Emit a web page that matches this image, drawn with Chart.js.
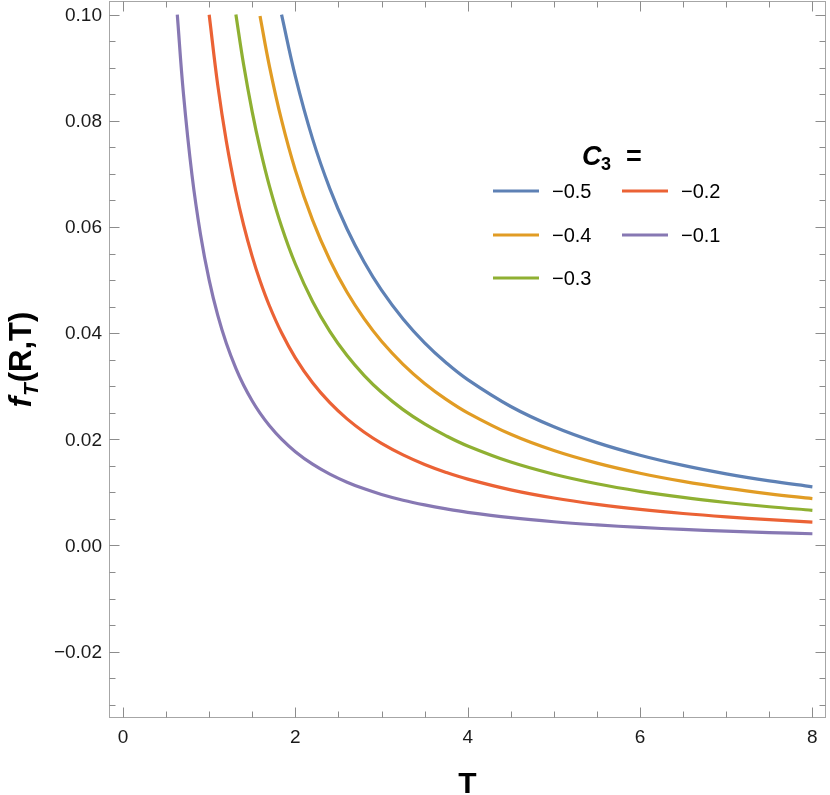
<!DOCTYPE html>
<html>
<head>
<meta charset="utf-8">
<title>f_T(R,T) vs T</title>
<script src="https://cdn.jsdelivr.net/npm/chart.js@4.4.1/dist/chart.umd.min.js"></script>
<style>
  html, body { margin: 0; padding: 0; background: #ffffff; }
  #wrap { width: 830px; height: 795px; }
</style>
</head>
<body>
<div id="wrap"><canvas id="lineChart" width="830" height="795"></canvas></div>
<script>
const tValues = [0.63, 0.7, 0.8, 0.9, 1.0, 1.1, 1.2, 1.31, 1.4, 1.5, 1.59, 1.7, 1.84, 2.0, 2.2, 2.4, 2.6, 2.8, 3.0, 3.25, 3.5, 3.75, 4, 4.5, 5, 5.5, 6, 6.5, 7, 7.5, 8];

// f_T(R,T) for each C3 (null = above the plotted range)
const fC3m05 = [null, null, null, null, null, null, null, null, null, null, null, null, 0.10000, 0.08839, 0.07661, 0.06724, 0.05963, 0.05336, 0.04811, 0.04267, 0.03818, 0.03443, 0.03125, 0.02619, 0.02236, 0.01938, 0.01701, 0.01509, 0.01350, 0.01217, 0.01105];
const fC3m04 = [null, null, null, null, null, null, null, null, null, null, 0.09975, 0.09023, 0.08013, 0.07071, 0.06129, 0.05379, 0.04770, 0.04269, 0.03849, 0.03414, 0.03054, 0.02754, 0.02500, 0.02095, 0.01789, 0.01551, 0.01361, 0.01207, 0.01080, 0.00974, 0.00884];
const fC3m03 = [null, null, null, null, null, null, null, 0.10004, 0.09055, 0.08165, 0.07481, 0.06767, 0.06010, 0.05303, 0.04597, 0.04034, 0.03578, 0.03202, 0.02887, 0.02560, 0.02291, 0.02066, 0.01875, 0.01571, 0.01342, 0.01163, 0.01021, 0.00905, 0.00810, 0.00730, 0.00663];
const fC3m02 = [null, null, null, null, 0.10000, 0.08668, 0.07607, 0.06669, 0.06037, 0.05443, 0.04988, 0.04512, 0.04007, 0.03536, 0.03065, 0.02690, 0.02385, 0.02134, 0.01925, 0.01707, 0.01527, 0.01377, 0.01250, 0.01048, 0.00894, 0.00775, 0.00680, 0.00603, 0.00540, 0.00487, 0.00442];
const fC3m01 = [0.10000, 0.08537, 0.06988, 0.05856, 0.05000, 0.04334, 0.03804, 0.03335, 0.03018, 0.02722, 0.02494, 0.02256, 0.02003, 0.01768, 0.01532, 0.01345, 0.01193, 0.01067, 0.00962, 0.00853, 0.00764, 0.00689, 0.00625, 0.00524, 0.00447, 0.00388, 0.00340, 0.00302, 0.00270, 0.00243, 0.00221];

const c3Labels = ['\u22120.5', '\u22120.4', '\u22120.3', '\u22120.2', '\u22120.1'];
const seriesColors = ['#5e81b5', '#e19c24', '#8fb032', '#eb6235', '#8778b3'];

// axis ticks
const xTicks = [0, 2, 4, 6, 8];
const xMinorTicks = [0, 0.5, 1, 1.5, 2, 2.5, 3, 3.5, 4, 4.5, 5, 5.5, 6, 6.5, 7, 7.5, 8];
const yTicks = [-0.02, 0.00, 0.02, 0.04, 0.06, 0.08, 0.10];
const yMinorTicks = [-0.03, -0.025, -0.02, -0.015, -0.01, -0.005, 0, 0.005, 0.01, 0.015, 0.02, 0.025, 0.03, 0.035, 0.04, 0.045, 0.05, 0.055, 0.06, 0.065, 0.07, 0.075, 0.08, 0.085, 0.09, 0.095, 0.1];

const FONT = '"Liberation Sans", Arial, sans-serif';

window.onload = function () {
  const ctx = document.getElementById('lineChart').getContext('2d');
  const allSeries = [fC3m05, fC3m04, fC3m03, fC3m02, fC3m01];

  const datasets = allSeries.map((vals, i) => ({
    label: c3Labels[i],
    data: tValues.map((t, j) => ({ x: t, y: vals[j] })),
    borderColor: seriesColors[i],
    borderWidth: 3.2,
    pointRadius: 0,
    fill: false,
    tension: 0.4
  }));

  // frame, inward ticks, tick labels, axis titles
  const framePlugin = {
    id: 'frame',
    afterDraw(chart) {
      const c = chart.ctx;
      const a = chart.chartArea;
      const xs = chart.scales.x;
      const ys = chart.scales.y;
      const L = Math.round(a.left) + 0.5, R = Math.round(a.right) - 0.5;
      const T = Math.round(a.top) + 0.5, B = Math.round(a.bottom) - 0.5;

      c.save();
      c.strokeStyle = '#a6a6a6';
      c.lineWidth = 1;
      c.strokeRect(L, T, R - L, B - T);

      c.strokeStyle = '#8c8c8c';
      c.beginPath();
      xMinorTicks.forEach(v => {
        const len = xTicks.includes(v) ? 10 : 6;
        const px = Math.round(xs.getPixelForValue(v)) + 0.5;
        c.moveTo(px, B); c.lineTo(px, B - len);
        c.moveTo(px, T); c.lineTo(px, T + len);
      });
      yMinorTicks.forEach(v => {
        const major = yTicks.some(t => Math.abs(t - v) < 1e-9);
        const len = major ? 10 : 6;
        const py = Math.round(ys.getPixelForValue(v)) + 0.5;
        c.moveTo(L, py); c.lineTo(L + len, py);
        c.moveTo(R, py); c.lineTo(R - len, py);
      });
      c.stroke();

      // tick labels
      c.fillStyle = '#1a1a1a';
      c.font = '19px ' + FONT;
      c.textAlign = 'center';
      c.textBaseline = 'middle';
      xTicks.forEach(v => {
        c.fillText(String(v), xs.getPixelForValue(v), 738);
      });
      c.textAlign = 'right';
      yTicks.forEach(v => {
        const txt = v.toFixed(2).replace('-', '\u2212');
        c.fillText(txt, 102, ys.getPixelForValue(v) + 1);
      });

      // x title
      c.fillStyle = '#000000';
      c.textAlign = 'center';
      c.textBaseline = 'alphabetic';
      c.font = 'bold 30px ' + FONT;
      c.fillText('T', (a.left + a.right) / 2, 793);

      // y title f_T(R,T), rotated
      c.translate(31, (a.top + a.bottom) / 2);
      c.rotate(-Math.PI / 2);
      const big = 'bold 31px ' + FONT;
      const bigIt = 'italic bold 31px ' + FONT;
      const sub = 'italic bold 21px ' + FONT;
      c.font = bigIt; const wF = c.measureText('f').width;
      c.font = sub; const wS = c.measureText('T').width;
      c.font = big; const wP = c.measureText('(R,T)').width;
      let x0 = -(wF + wS + wP + 2) / 2;
      c.textAlign = 'left';
      c.font = bigIt; c.fillText('f', x0, 0); x0 += wF + 1;
      c.font = sub; c.fillText('T', x0, 7); x0 += wS + 1;
      c.font = big; c.fillText('(R,T)', x0, 0);
      c.restore();
    }
  };

  // two-column legend with title C3 =
  const legendPlugin = {
    id: 'c3Legend',
    afterDraw(chart) {
      const c = chart.ctx;
      const ds = chart.data.datasets;
      const slots = [[493, 191], [493, 235], [493, 278], [622, 191], [622, 235]];
      c.save();
      c.fillStyle = '#000000';
      c.textBaseline = 'alphabetic';
      c.textAlign = 'left';
      c.font = 'italic bold 27px ' + FONT;
      c.fillText('C', 582, 165);
      c.font = 'bold 18px ' + FONT;
      c.fillText('3', 601, 170);
      c.font = 'bold 27px ' + FONT;
      c.fillText('=', 626, 165);

      c.font = '20px ' + FONT;
      c.textBaseline = 'middle';
      ds.forEach((d, i) => {
        const [lx, ly] = slots[i];
        c.strokeStyle = d.borderColor;
        c.lineWidth = 3;
        c.beginPath();
        c.moveTo(lx, ly);
        c.lineTo(lx + 46, ly);
        c.stroke();
        c.fillText(d.label, lx + 59, ly + 1);
      });
      c.restore();
    }
  };

  new Chart(ctx, {
    type: 'line',
    data: { datasets: datasets },
    options: {
      responsive: false,
      animation: false,
      layout: { padding: { left: 109, right: 4, top: 1, bottom: 77 } },
      plugins: {
        legend: { display: false },
        tooltip: { enabled: false }
      },
      scales: {
        x: { type: 'linear', min: -0.1625, max: 8.158, display: false },
        y: { type: 'linear', min: -0.0325, max: 0.10258, display: false }
      }
    },
    plugins: [framePlugin, legendPlugin]
  });
};
</script>
</body>
</html>
